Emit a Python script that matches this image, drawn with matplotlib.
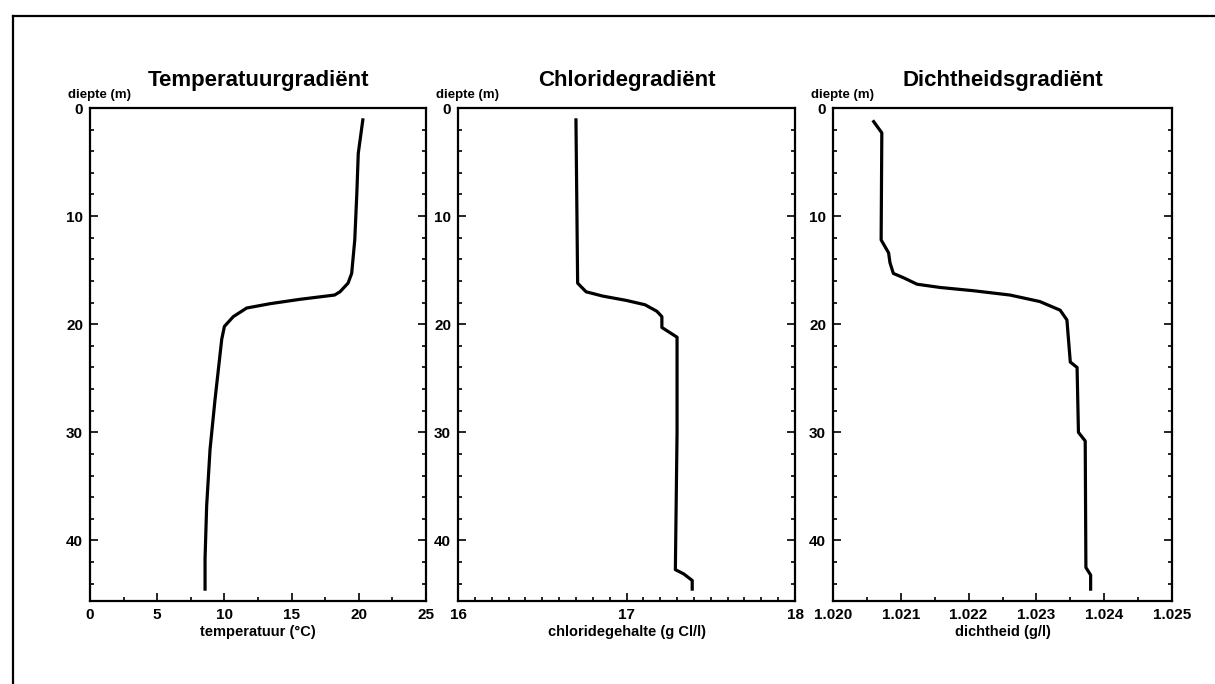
#three depth profiles: temperature, chloride and density against depth
import matplotlib
matplotlib.use("Agg")
import matplotlib.pyplot as plt
from matplotlib.lines import Line2D
from matplotlib.ticker import MultipleLocator, FormatStrFormatter

plt.rcParams['font.family'] = ['Liberation Sans', 'DejaVu Sans']
plt.rcParams['font.weight'] = 'bold'

##############################################################
# values (depth in m)
depth_temp = [1.1, 4.2, 8.0, 12.2, 15.3, 16.2, 17.0, 17.3, 17.7, 18.1, 18.5, 19.3,
              20.2, 21.4, 27.0, 31.6, 36.8, 41.7, 44.5]
temp = [20.3, 19.96, 19.85, 19.7, 19.47, 19.2, 18.6, 18.2, 15.6, 13.4, 11.66, 10.66,
        10.0, 9.8, 9.3, 8.93, 8.68, 8.56, 8.56]

depth_cl = [1.1, 16.2, 17.0, 17.4, 17.8, 18.2, 18.8, 19.3, 20.3, 20.6, 21.2, 30.0,
            42.7, 43.1, 43.7, 44.5]
chloride = [16.70, 16.71, 16.76, 16.86, 17.00, 17.11, 17.18, 17.21, 17.21, 17.24,
            17.30, 17.30, 17.29, 17.34, 17.39, 17.39]

depth_rho = [1.26, 2.3, 12.2, 13.4, 14.3, 15.3, 15.7, 16.3, 16.6, 16.9, 17.3, 17.9,
             18.7, 19.6, 23.5, 24.0, 30.0, 30.8, 42.5, 43.2, 44.5]
density = [1.02060, 1.02072, 1.02071, 1.02082, 1.02084, 1.02089, 1.02104, 1.02124,
           1.02158, 1.02207, 1.02261, 1.02305, 1.02335, 1.02345, 1.02350, 1.02360,
           1.02362, 1.02372, 1.02373, 1.02380, 1.02380]

titles = ["Temperatuurgradiënt", "Chloridegradiënt", "Dichtheidsgradiënt"]
xlabels = ["temperatuur (°C)", "chloridegehalte (g Cl/l)", "dichtheid (g/l)"]
ylabel = "diepte (m)"
xlims = [(0, 25), (16, 18), (1.020, 1.025)]
xmajor = [5, 1, 0.001]
xminor = [2.5, 0.1, 0.0005]
xfmt = ["%d", "%d", "%.3f"]
##############################################################

W, H = 1215, 684
fig = plt.figure(figsize=(W / 100, H / 100), dpi=100)

# outer frame of the scanned page (top and left edge)
fig.add_artist(Line2D([13 / W, 1], [1 - 16 / H, 1 - 16 / H], transform=fig.transFigure,
                      color="black", linewidth=1.6))
fig.add_artist(Line2D([13 / W, 13 / W], [0, 1 - 16 / H], transform=fig.transFigure,
                      color="black", linewidth=1.6))

boxes = [(90, 426), (458, 795), (833, 1172)]
top, bottom = 108, 601
profiles = [(temp, depth_temp), (chloride, depth_cl), (density, depth_rho)]

for i, (x0, x1) in enumerate(boxes):
    ax = fig.add_axes([x0 / W, 1 - bottom / H, (x1 - x0) / W, (bottom - top) / H])
    xs, ds = profiles[i]
    ax.plot(xs, ds, color="black", linewidth=2.3, solid_joinstyle="round")
    ax.set_xlim(*xlims[i])
    ax.set_ylim(45.6, 0)

    ax.xaxis.set_major_locator(MultipleLocator(xmajor[i]))
    ax.xaxis.set_minor_locator(MultipleLocator(xminor[i]))
    ax.xaxis.set_major_formatter(FormatStrFormatter(xfmt[i]))
    ax.yaxis.set_major_locator(MultipleLocator(10))
    ax.yaxis.set_minor_locator(MultipleLocator(2))

    ax.tick_params(which="both", direction="in", left=True, right=True,
                   bottom=True, top=False, width=1.2, labelsize=11, pad=5)
    ax.tick_params(which="major", length=6)
    ax.tick_params(which="minor", length=3)
    for s in ax.spines.values():
        s.set_linewidth(1.6)

    ax.set_title(titles[i], fontsize=16, fontweight="bold", pad=16)
    ax.set_xlabel(xlabels[i], fontsize=10.5, fontweight="bold", labelpad=2)
    ax.annotate(ylabel, xy=(0, 1), xycoords="axes fraction", xytext=(-22, 7),
                textcoords="offset pixels", fontsize=9.5, fontweight="bold",
                ha="left", va="bottom")

plt.savefig("out.png", dpi=100)
